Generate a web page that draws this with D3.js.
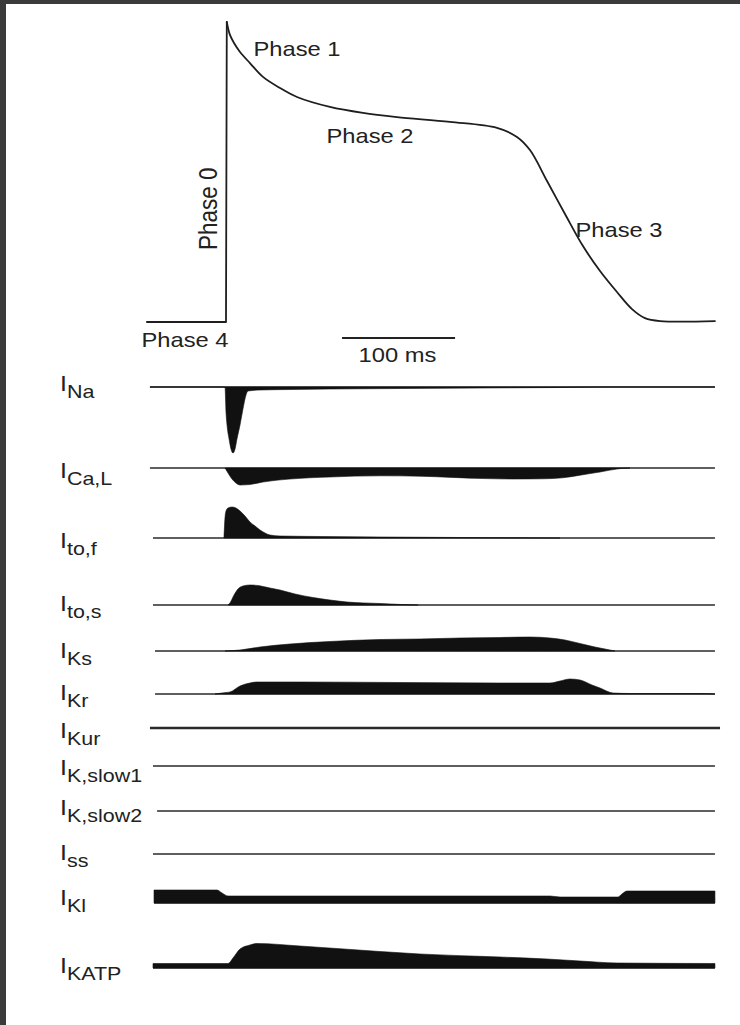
<!DOCTYPE html>
<html>
<head>
<meta charset="utf-8">
<script src="https://cdn.jsdelivr.net/npm/d3@7"></script>
<style>
  html, body { margin: 0; padding: 0; background: #fff; }
  svg { display: block; }
  text { font-family: "Liberation Sans", Arial, Helvetica, sans-serif; fill: #222; }
</style>
</head>
<body>
<svg id="chart" width="740" height="1025"></svg>
<script>
// ---- Ventricular action potential (time in ms from upstroke, membrane potential in mV)
const apTime    = [-70, -1.8, 0, 0.7, 1.8, 3.5, 7.1, 12.4, 21.2, 32.7, 47.8, 62.8, 92, 121.2, 151.3, 198.2, 239.8, 257.5, 269, 284.1, 300, 315.9, 331, 346, 359.3, 370.8, 384.1, 432.7];
const apVoltage = [-80, -80, -80, 50, 47.4, 44.4, 40.9, 37, 32.2, 26.2, 21.4, 17.5, 13.2, 10.6, 8.8, 6.7, 4.1, 0.2, -5.5, -18.9, -33.2, -47.1, -57.9, -67.0, -74.4, -78.3, -79.6, -79.6];
const upstrokeIndex = 3; // last point of the resting/upstroke segment

const phaseNames = ["Phase 0", "Phase 1", "Phase 2", "Phase 3", "Phase 4"];
const scaleBarStart = 102.7;
const scaleBarMs = 100;
const scaleBarLabel = "100 ms";

// ---- Ionic currents: [time (ms), current (a.u., outward positive)]
const iNa = [[-67.3,0],[-1.8,0],[-0.9,0],[0,-12.5],[0.9,-19],[2.7,-26],[4.4,-31],[6.2,-33],[8,-31],[9.7,-26],[12.4,-19],[15,-11],[17.7,-4],[19.5,-2],[30.1,-1.5],[56.6,-1.25],[92,-1],[154,-0.75],[224.8,-0.5],[295.6,-0.25],[331,0],[432.7,0]];
const iCaL = [[-0.9,0],[1.8,-2.5],[5.3,-5.5],[8.8,-7.5],[12.4,-8.5],[21.2,-8.25],[32.7,-7],[56.6,-5.5],[92,-4.5],[136.3,-3.9],[171.7,-4.1],[200,-4.7],[230,-5.3],[255,-5.5],[280,-5.4],[298,-4.9],[313.3,-3.6],[331,-2],[348.7,-0.3],[357.5,0]];
const iTof = [[-1.8,0],[-0.9,10],[0,13.5],[1.8,15],[5.3,15.5],[8.8,15],[12.4,13.5],[16.8,11],[21.2,8],[25.7,6],[30.1,4],[34.5,2.5],[38.9,1.5],[47.8,1],[83.2,0.75],[136.3,0.5],[207.1,0.25],[295.6,0]];
const iTos = [[1.8,0],[3.5,1],[7.1,5],[10.6,8],[15,9.5],[21.2,10],[28.3,9.75],[38.9,8.5],[47.8,7.5],[61.1,5.5],[77,3.75],[92,2.5],[107.1,1.5],[136.3,0.75],[155,0.25],[170,0]];
const iKs = [[-0.9,0],[12.4,0.5],[30.1,2],[56.6,3.5],[92,4.75],[136.3,5.75],[171.7,6],[207.1,6.5],[242.5,6.75],[269,7],[286.7,6.5],[300,5.5],[313.3,3.75],[326.5,2],[335.4,1],[344.2,0]];
const iKr = [[-9.7,0],[-3.5,0.5],[3.5,1],[12.4,4],[21.2,5.5],[27.4,6],[65.5,6],[154,5.75],[242.5,5.5],[286.7,5.5],[295.6,6.5],[304.4,7.5],[313.3,7],[323.9,4.5],[331,3],[342.5,0.5],[357.5,0.25],[419.5,0.25],[432.7,0]];
const iKur = [];
const iKslow1 = [];
const iKslow2 = [];
const iSs = [];
const iK1 = [[-63.7,6.5],[-8,6.5],[-3.5,5],[1.8,3.5],[30.1,3.5],[154,3.5],[286.7,3.5],[295.6,3],[346.9,3],[350.4,4.5],[354.9,6],[432.7,6]];
const iKATP = [[-64.6,2.25],[1.8,2.25],[6.2,5],[12.4,9.5],[21.2,11.5],[27.4,12.25],[65.5,11],[136.3,8.25],[171.7,7],[242.5,5.5],[284.1,4.5],[313.3,3.5],[346,2.5],[432.7,2.25]];

const currentSubscripts = ["Na", "Ca,L", "to,f", "to,s", "Ks", "Kr", "Kur", "K,slow1", "K,slow2", "ss", "Kl", "KATP"];
const currentSeries = [iNa, iCaL, iTof, iTos, iKs, iKr, iKur, iKslow1, iKslow2, iSs, iK1, iKATP];
// trace extent in ms
const traceStart = [-67.3, -67.3, -64.6, -64.6, -62.8, -62.8, -67.3, -64.6, -61, -64.6, -63.7, -64.6];
const traceEnd   = [432.7, 432.7, 432.7, 432.7, 432.7, 432.7, 437.2, 432.7, 432.7, 432.7, 432.7, 432.7];

// ---- layout
const W = 740, H = 1025;
const rowBase  = [387, 468, 538, 605, 651, 694, 728, 766, 811, 854, 903, 968];
const labelBase = [398, 485, 555, 618, 665, 707, 745, 782, 822, 867, 912, 980];
const baseWidth = [1.4, 1.4, 1.6, 1.5, 1.5, 1.5, 2.6, 1.4, 1.4, 1.4, 1.4, 1.4];
const stretch = 1.13;

const svg = d3.select("#chart");

// page frame
svg.append("rect").attr("x", 0).attr("y", 0).attr("width", W).attr("height", H).attr("fill", "#fff");
svg.append("rect").attr("x", 0).attr("y", 0).attr("width", 6).attr("height", H).attr("fill", "#3b3b3b");
svg.append("rect").attr("x", 0).attr("y", 0).attr("width", W).attr("height", 4).attr("fill", "#3b3b3b");

const x = d3.scaleLinear().domain([0, 100]).range([226, 339]);
const yAP = d3.scaleLinear().domain([-80, 50]).range([322, 22]);
const amp = d3.scaleLinear().domain([0, 1]).range([0, -2]);

// action potential: straight resting segment and upstroke, smooth repolarisation
const apPoints = apTime.map((t, i) => [x(t), yAP(apVoltage[i])]);
const apStroke = path => path
  .attr("fill", "none")
  .attr("stroke", "#1e1e1e")
  .attr("stroke-width", 1.8)
  .attr("stroke-linejoin", "round")
  .attr("stroke-linecap", "round");
apStroke(svg.append("path")
  .attr("d", d3.line().curve(d3.curveLinear)(apPoints.slice(0, upstrokeIndex + 1))));
apStroke(svg.append("path")
  .attr("d", d3.line().curve(d3.curveCatmullRom.alpha(0.5))(apPoints.slice(upstrokeIndex))));

// phase annotations
const phasePos = [
  { x: 217, y: 250, rotate: true, size: 22.5 },
  { x: 253.5, y: 56, size: 21 },
  { x: 326.5, y: 143, size: 21 },
  { x: 575.5, y: 237, size: 21 },
  { x: 141.5, y: 347, size: 21 }
];
phaseNames.forEach((name, i) => {
  const p = phasePos[i];
  svg.append("text")
    .attr("transform", p.rotate
      ? `translate(${p.x},${p.y}) scale(${stretch},1) rotate(-90)`
      : `translate(${p.x},${p.y}) scale(${stretch},1)`)
    .attr("font-size", p.size)
    .text(name);
});

// time scale bar
svg.append("line")
  .attr("x1", x(scaleBarStart)).attr("x2", x(scaleBarStart + scaleBarMs))
  .attr("y1", 338).attr("y2", 338)
  .attr("stroke", "#222").attr("stroke-width", 2);
svg.append("text")
  .attr("transform", `translate(358.5,362) scale(${stretch},1)`)
  .attr("font-size", 21)
  .text(scaleBarLabel);

// current traces
currentSeries.forEach((series, i) => {
  const base = rowBase[i];
  const g = svg.append("g");

  // zero line
  g.append("line")
    .attr("x1", x(traceStart[i])).attr("x2", x(traceEnd[i]))
    .attr("y1", base).attr("y2", base)
    .attr("stroke", "#2a2a2a")
    .attr("stroke-width", baseWidth[i]);

  if (series.length) {
    const area = d3.area()
      .x(d => x(d[0]))
      .y0(base)
      .y1(d => base + amp(d[1]))
      .curve(d3.curveMonotoneX);
    g.append("path")
      .attr("d", area(series))
      .attr("fill", "#111")
      .attr("stroke", "#111")
      .attr("stroke-width", 0.6);
  }

  // label: I with subscript
  const label = g.append("text")
    .attr("transform", `translate(60,${labelBase[i] - 7}) scale(${stretch},1)`);
  label.append("tspan").attr("font-size", 22).text("I");
  label.append("tspan").attr("font-size", 19).attr("dy", 7).text(currentSubscripts[i]);
});
</script>
</body>
</html>
